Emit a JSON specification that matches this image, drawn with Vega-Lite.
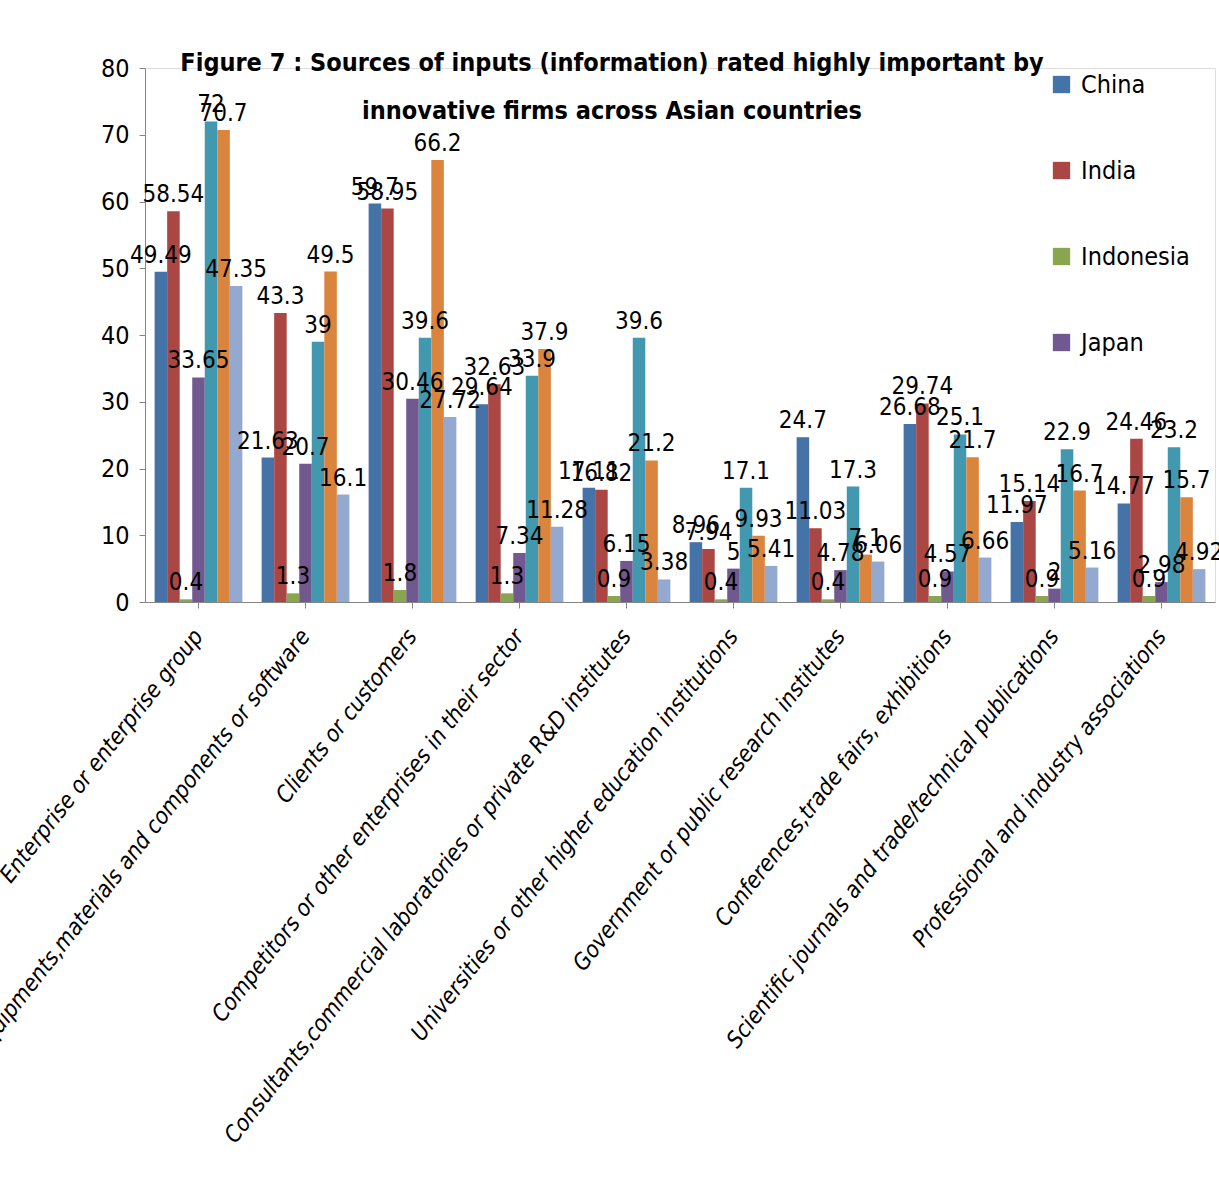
{
  "$schema": "https://vega.github.io/schema/vega-lite/v6.json",
  "autosize": {"type": "none"},
  "padding": {"left": 145, "top": 68, "right": 4, "bottom": 576},
  "width": 1070,
  "height": 534,
  "background": "white",
  "title": {
    "text": ["Figure 7 : Sources of inputs (information) rated highly important by", "innovative firms across Asian countries"],
    "anchor": "middle",
    "align": "center",
    "dx": -68,
    "offset": 0,
    "dy": 68,
    "lineHeight": 48,
    "fontSize": 25,
    "fontWeight": "bold",
    "font": "DejaVu Sans Condensed, sans-serif",
    "color": "black"
  },
  "data": {
    "values": [
      {"source": "Enterprise or enterprise group", "country": "China", "value": 49.49},
      {"source": "Enterprise or enterprise group", "country": "India", "value": 58.54},
      {"source": "Enterprise or enterprise group", "country": "Indonesia", "value": 0.4},
      {"source": "Enterprise or enterprise group", "country": "Japan", "value": 33.65},
      {"source": "Enterprise or enterprise group", "country": "Korea", "value": 72},
      {"source": "Enterprise or enterprise group", "country": "Malaysia", "value": 70.7},
      {"source": "Enterprise or enterprise group", "country": "Philippines", "value": 47.35},

      {"source": "Equipments,materials and components or software", "country": "China", "value": 21.63},
      {"source": "Equipments,materials and components or software", "country": "India", "value": 43.3},
      {"source": "Equipments,materials and components or software", "country": "Indonesia", "value": 1.3},
      {"source": "Equipments,materials and components or software", "country": "Japan", "value": 20.7},
      {"source": "Equipments,materials and components or software", "country": "Korea", "value": 39},
      {"source": "Equipments,materials and components or software", "country": "Malaysia", "value": 49.5},
      {"source": "Equipments,materials and components or software", "country": "Philippines", "value": 16.1},

      {"source": "Clients or customers", "country": "China", "value": 59.7},
      {"source": "Clients or customers", "country": "India", "value": 58.95},
      {"source": "Clients or customers", "country": "Indonesia", "value": 1.8},
      {"source": "Clients or customers", "country": "Japan", "value": 30.46},
      {"source": "Clients or customers", "country": "Korea", "value": 39.6},
      {"source": "Clients or customers", "country": "Malaysia", "value": 66.2},
      {"source": "Clients or customers", "country": "Philippines", "value": 27.72},

      {"source": "Competitors or other enterprises in their sector", "country": "China", "value": 29.64},
      {"source": "Competitors or other enterprises in their sector", "country": "India", "value": 32.63},
      {"source": "Competitors or other enterprises in their sector", "country": "Indonesia", "value": 1.3},
      {"source": "Competitors or other enterprises in their sector", "country": "Japan", "value": 7.34},
      {"source": "Competitors or other enterprises in their sector", "country": "Korea", "value": 33.9},
      {"source": "Competitors or other enterprises in their sector", "country": "Malaysia", "value": 37.9},
      {"source": "Competitors or other enterprises in their sector", "country": "Philippines", "value": 11.28},

      {"source": "Consultants,commercial laboratories or private R&D institutes", "country": "China", "value": 17.11},
      {"source": "Consultants,commercial laboratories or private R&D institutes", "country": "India", "value": 16.82},
      {"source": "Consultants,commercial laboratories or private R&D institutes", "country": "Indonesia", "value": 0.9},
      {"source": "Consultants,commercial laboratories or private R&D institutes", "country": "Japan", "value": 6.15},
      {"source": "Consultants,commercial laboratories or private R&D institutes", "country": "Korea", "value": 39.6},
      {"source": "Consultants,commercial laboratories or private R&D institutes", "country": "Malaysia", "value": 21.2},
      {"source": "Consultants,commercial laboratories or private R&D institutes", "country": "Philippines", "value": 3.38},

      {"source": "Universities or other higher education institutions", "country": "China", "value": 8.96},
      {"source": "Universities or other higher education institutions", "country": "India", "value": 7.94},
      {"source": "Universities or other higher education institutions", "country": "Indonesia", "value": 0.4},
      {"source": "Universities or other higher education institutions", "country": "Japan", "value": 5.0},
      {"source": "Universities or other higher education institutions", "country": "Korea", "value": 17.1},
      {"source": "Universities or other higher education institutions", "country": "Malaysia", "value": 9.93},
      {"source": "Universities or other higher education institutions", "country": "Philippines", "value": 5.41},

      {"source": "Government or public research institutes", "country": "China", "value": 24.7},
      {"source": "Government or public research institutes", "country": "India", "value": 11.03},
      {"source": "Government or public research institutes", "country": "Indonesia", "value": 0.4},
      {"source": "Government or public research institutes", "country": "Japan", "value": 4.78},
      {"source": "Government or public research institutes", "country": "Korea", "value": 17.3},
      {"source": "Government or public research institutes", "country": "Malaysia", "value": 7.1},
      {"source": "Government or public research institutes", "country": "Philippines", "value": 6.06},

      {"source": "Conferences,trade fairs, exhibitions", "country": "China", "value": 26.68},
      {"source": "Conferences,trade fairs, exhibitions", "country": "India", "value": 29.74},
      {"source": "Conferences,trade fairs, exhibitions", "country": "Indonesia", "value": 0.9},
      {"source": "Conferences,trade fairs, exhibitions", "country": "Japan", "value": 4.57},
      {"source": "Conferences,trade fairs, exhibitions", "country": "Korea", "value": 25.1},
      {"source": "Conferences,trade fairs, exhibitions", "country": "Malaysia", "value": 21.7},
      {"source": "Conferences,trade fairs, exhibitions", "country": "Philippines", "value": 6.66},

      {"source": "Scientific journals and trade/technical publications", "country": "China", "value": 11.97},
      {"source": "Scientific journals and trade/technical publications", "country": "India", "value": 15.14},
      {"source": "Scientific journals and trade/technical publications", "country": "Indonesia", "value": 0.9},
      {"source": "Scientific journals and trade/technical publications", "country": "Japan", "value": 2},
      {"source": "Scientific journals and trade/technical publications", "country": "Korea", "value": 22.9},
      {"source": "Scientific journals and trade/technical publications", "country": "Malaysia", "value": 16.7},
      {"source": "Scientific journals and trade/technical publications", "country": "Philippines", "value": 5.16},

      {"source": "Professional and industry associations", "country": "China", "value": 14.77},
      {"source": "Professional and industry associations", "country": "India", "value": 24.46},
      {"source": "Professional and industry associations", "country": "Indonesia", "value": 0.9},
      {"source": "Professional and industry associations", "country": "Japan", "value": 2.98},
      {"source": "Professional and industry associations", "country": "Korea", "value": 23.2},
      {"source": "Professional and industry associations", "country": "Malaysia", "value": 15.7},
      {"source": "Professional and industry associations", "country": "Philippines", "value": 4.92}
    ]
  },
  "encoding": {
    "x": {
      "field": "source",
      "type": "nominal",
      "sort": null,
      "title": null,
      "scale": {"paddingInner": 0.18, "paddingOuter": 0.09},
      "axis": {
        "labelAngle": -52,
        "labelFont": "DejaVu Sans Condensed, sans-serif",
        "labelFontStyle": "italic",
        "labelFontSize": 23,
        "labelColor": "black",
        "labelLimit": 0,
        "labelPadding": 24,
        "domainColor": "#868686",
        "tickColor": "#868686",
        "tickSize": 6
      }
    },
    "xOffset": {
      "field": "country",
      "type": "nominal",
      "sort": ["China", "India", "Indonesia", "Japan", "Korea", "Malaysia", "Philippines"]
    },
    "y": {
      "field": "value",
      "type": "quantitative",
      "title": null,
      "scale": {"domain": [0, 80], "nice": false},
      "axis": {
        "values": [0, 10, 20, 30, 40, 50, 60, 70, 80],
        "grid": false,
        "labelFont": "DejaVu Sans Condensed, sans-serif",
        "labelFontSize": 25,
        "labelColor": "black",
        "labelPadding": 10,
        "domainColor": "#868686",
        "tickColor": "#868686",
        "tickSize": 6
      }
    }
  },
  "layer": [
    {
      "mark": {"type": "bar"},
      "encoding": {
        "color": {
          "field": "country",
          "type": "nominal",
          "sort": ["China", "India", "Indonesia", "Japan", "Korea", "Malaysia", "Philippines"],
          "scale": {
            "domain": ["China", "India", "Indonesia", "Japan", "Korea", "Malaysia", "Philippines"],
            "range": ["#4572A7", "#AA4643", "#89A54E", "#71588F", "#4198AF", "#DB843D", "#93A9CF"]
          },
          "legend": {
            "title": null,
            "values": ["China", "India", "Indonesia", "Japan"],
            "orient": "none",
            "legendX": 904,
            "legendY": 4,
            "symbolType": "square",
            "symbolSize": 300,
            "symbolStrokeWidth": 0,
            "labelFont": "DejaVu Sans Condensed, sans-serif",
            "labelFontSize": 25,
            "labelColor": "black",
            "labelOffset": 7,
            "rowPadding": 60
          }
        }
      }
    },
    {
      "mark": {
        "type": "text",
        "baseline": "bottom",
        "dy": -4,
        "font": "DejaVu Sans Condensed, sans-serif",
        "fontSize": 24,
        "color": "black"
      },
      "encoding": {
        "text": {"field": "value", "type": "nominal"}
      }
    }
  ]
}
